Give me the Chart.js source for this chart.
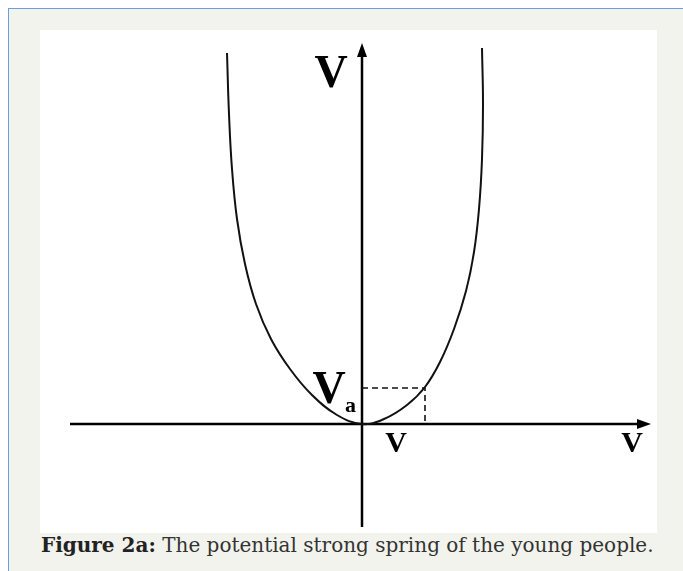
<!DOCTYPE html>
<html>
<head>
<meta charset="utf-8">
<script src="https://cdn.jsdelivr.net/npm/chart.js@4/dist/chart.umd.min.js"></script>
<style>
  html,body{margin:0;padding:0;background:#fff;width:683px;height:571px;overflow:hidden;}
  #frame{position:absolute;left:8px;top:8px;width:700px;height:600px;background:#f3f3ee;border-left:1px solid #6a9ede;border-top:1px solid #6a9ede;}
  #panel{position:absolute;left:40px;top:30px;width:617px;height:503px;background:#fff;}
  #cap{position:absolute;left:41px;top:533px;width:640px;font-family:"DejaVu Serif",serif;font-size:20px;line-height:24px;color:#333;white-space:nowrap;}
  #cap b{color:#222;}
</style>
</head>
<body>
<div id="frame"></div>
<div id="panel"><canvas id="c" width="617" height="503"></canvas></div>
<div id="cap"><b>Figure 2a:</b> The potential strong spring of the young people.</div>
<script>
// Curve points (origin at axes intersection)
const curveX = [-135,-133,-130,-125,-117,-106,-91,-72,-50,-25,0,22,45,63,78,92,104,112,117,120,121,120];
const curveY = [371,310,255,205,160,120,85,55,29,9,0,5,19,37,62,95,133,172,215,265,320,376];
// Axes extents
const xAxisRange = [-292, 289];
const yAxisRange = [-103, 381];
// Dashed marker point (v, Va)
const markX = [0, 63, 63];
const markY = [36, 36, 0];
// Labels
const labelText = ["V", "V", "a", "V", "V"];
const labelX = [-31, -33, -17, 34, 270];
const labelY = [337, 21, 12, -28, -28];

const curveData = curveX.map((x,i)=>({x, y: curveY[i]}));
const markData = markX.map((x,i)=>({x, y: markY[i]}));
const ARROW = 11;
const xAxisData = [{x:xAxisRange[0], y:0},{x:xAxisRange[1]-ARROW, y:0}];
const yAxisData = [{x:0, y:yAxisRange[0]},{x:0, y:yAxisRange[1]-ARROW}];

const overlay = {
  id:'overlay',
  afterDatasetsDraw(chart){
    const ctx = chart.ctx, xs = chart.scales.x, ys = chart.scales.y;
    ctx.save();
    ctx.fillStyle = '#000';
    const tx = xs.getPixelForValue(xAxisRange[1]), ty = ys.getPixelForValue(0);
    ctx.beginPath(); ctx.moveTo(tx, ty); ctx.lineTo(tx-14, ty-5); ctx.lineTo(tx-14, ty+5); ctx.closePath(); ctx.fill();
    const ux = xs.getPixelForValue(0), uy = ys.getPixelForValue(yAxisRange[1]);
    ctx.beginPath(); ctx.moveTo(ux, uy); ctx.lineTo(ux-5, uy+14); ctx.lineTo(ux+5, uy+14); ctx.closePath(); ctx.fill();
    const sizes = [46, 46, 22, 30, 30];
    ctx.textBaseline = 'alphabetic';
    labelText.forEach((t,i)=>{
      ctx.font = 'bold ' + sizes[i] + 'px "Liberation Serif", serif';
      ctx.textAlign = (i===2) ? 'left' : 'center';
      ctx.fillText(t, xs.getPixelForValue(labelX[i]), ys.getPixelForValue(labelY[i]));
    });
    ctx.restore();
  }
};

new Chart(document.getElementById('c'), {
  type: 'scatter',
  data: {
    datasets: [
      {data: curveData, showLine:true, borderColor:'#111', borderWidth:2, pointRadius:0, tension:0.4, fill:false},
      {data: markData, showLine:true, borderColor:'#111', borderWidth:1.6, borderDash:[6,4], pointRadius:0, tension:0},
      {data: xAxisData, showLine:true, borderColor:'#000', borderWidth:2.5, pointRadius:0},
      {data: yAxisData, showLine:true, borderColor:'#000', borderWidth:2.5, pointRadius:0}
    ]
  },
  options: {
    responsive:false, animation:false, devicePixelRatio:1,
    layout:{padding:0},
    plugins:{legend:{display:false}, tooltip:{enabled:false}},
    scales:{
      x:{type:'linear', min:-322, max:295, display:false},
      y:{type:'linear', min:-109, max:394, display:false}
    }
  },
  plugins:[overlay]
});
</script>
</body>
</html>
